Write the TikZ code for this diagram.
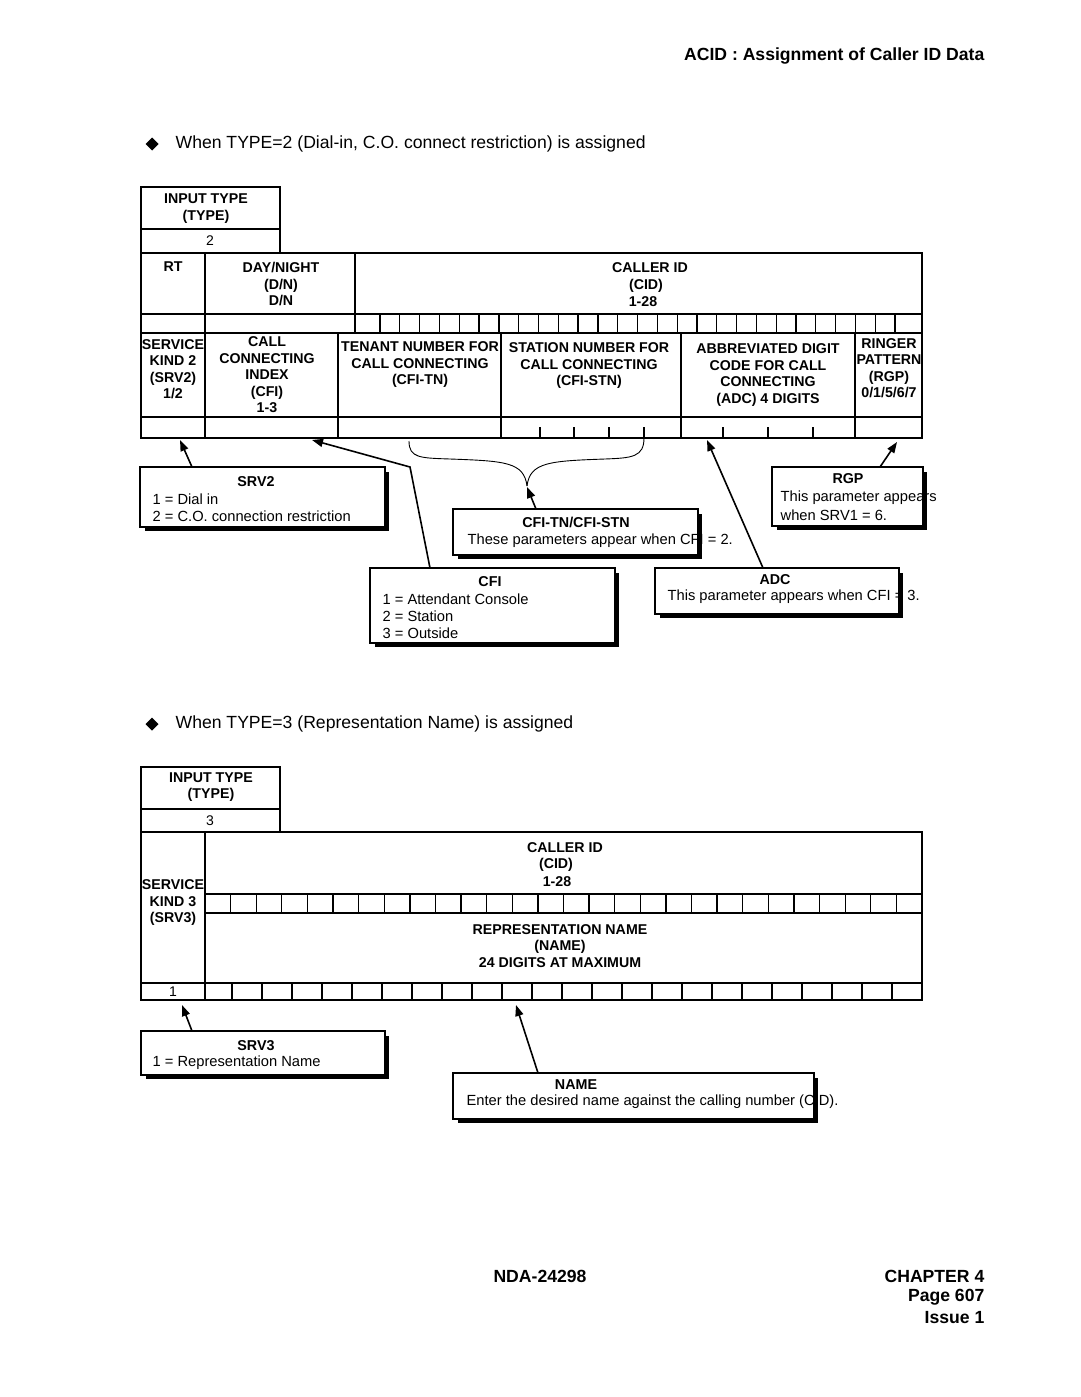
\documentclass[tikz,border=0pt]{standalone}
\usepackage{fontspec}
\setmainfont{Liberation Sans}
\usetikzlibrary{arrows.meta,shadows}
\begin{document}
\begin{tikzpicture}[x=1pt,y=-1pt,line width=1.3pt,
  tb/.style={font=\fontsize{14.2}{16.5}\selectfont\bfseries, align=center, inner sep=0pt},
  tv/.style={font=\fontsize{14}{16.5}\selectfont, inner sep=0pt},
  ct/.style={font=\fontsize{14.7}{17}\selectfont, inner sep=0pt, anchor=west},
  cttl/.style={font=\fontsize{14.3}{17}\selectfont\bfseries, inner sep=0pt},
  cbox/.style={draw, fill=white, line width=1.3pt, inner sep=0pt, anchor=north west,
    drop shadow={shadow xshift=4pt, shadow yshift=-4pt, opacity=1, fill=black}},
  arr/.style={line width=1.6pt, -{Triangle[length=11pt,width=8pt]}},
  head/.style={font=\fontsize{17.6}{21}\selectfont, inner sep=0pt},
  headb/.style={font=\fontsize{17.6}{21}\selectfont\bfseries, inner sep=0pt},
  brace/.style={line width=0.9pt}
]
\fill[white] (0,0) rectangle (1080,1397);
\useasboundingbox (0,0) rectangle (1080,1397);

% ---------- headings ----------
\node[headb, anchor=east] (title) at (985,56) {ACID : Assignment of Caller ID Data};
\fill (145.5,144) -- (152,137.5) -- (158.5,144) -- (152,150.5) -- cycle;
\node[head, anchor=west] (h1) at (175,144) {When TYPE=2 (Dial-in, C.O. connect restriction) is assigned};
\fill (145.5,724) -- (152,717.5) -- (158.5,724) -- (152,730.5) -- cycle;
\node[head, anchor=west] (h2) at (175,724) {When TYPE=3 (Representation Name) is assigned};

% ---------- upper table ----------
\draw (141,187) rectangle (280,253);
\draw (141,229) -- (280,229);
\draw (141,253) rectangle (922,438);
\foreach \yy in {314,333,417} \draw (141,\yy) -- (922,\yy);
\draw (205,253) -- (205,438);
\draw (355,253) -- (355,333);
\foreach \xx in {338,501,681,855} \draw (\xx,333) -- (\xx,438);
\foreach \i in {0,...,26} \draw ({380+19.81*\i},314) -- ({380+19.81*\i},333);
\foreach \xx in {540,574,609,644,723,768,813} \draw (\xx,427) -- (\xx,438);

\node[tb] (it1) at (206,208.5) {INPUT TYPE\\(TYPE)};
\node[tv] (it1v) at (210,241) {2};
\node[tb] (rt) at (173,267) {RT};
\node[tb] (dn) at (281,284) {DAY/NIGHT\\(D/N)\\D/N};
\node[tb] (cid1a) at (650,268) {CALLER ID};
\node[tb] (cid1b) at (646,286) {(CID)};
\node[tb] (cid1c) at (643,302) {1-28};
\node[tb] (srv2h) at (173,369) {SERVICE\\KIND 2\\(SRV2)\\1/2};
\node[tb] (cfih) at (267,375) {CALL\\CONNECTING\\INDEX\\(CFI)\\1-3};
\node[tb] (tnh) at (420,365) {TENANT NUMBER FOR\\CALL CONNECTING\\(CFI-TN)};
\node[tb] (stnh) at (589,366) {STATION NUMBER FOR\\CALL CONNECTING\\(CFI-STN)};
\node[tb] (adch) at (768,375) {ABBREVIATED DIGIT\\CODE FOR CALL\\CONNECTING\\(ADC) 4 DIGITS};
\node[tb] (rgph) at (889,368) {RINGER\\PATTERN\\(RGP)\\0/1/5/6/7};

% brace
\draw[brace] (409,441) .. controls (409,458) and (420,458) .. (450,459) .. controls (505,461) and (524,462) .. (527,486);
\draw[brace] (644,438) .. controls (644,457) and (632,458) .. (605,459) .. controls (550,461) and (530,462) .. (527,486);

% target coordinates
\coordinate (t-srv2) at (180,440);
\coordinate (t-cfi) at (312,440);
\coordinate (cfi-bend) at (410,467);
\coordinate (bracetip) at (527,487);
\coordinate (t-adc) at (707,440);
\coordinate (t-rgp) at (897,442);

% callout boxes (upper)
\node[cbox, minimum width=244pt, minimum height=59pt] (srv2) at (140,467) {};
\node[cbox, minimum width=244pt, minimum height=74pt] (cfi) at (370,568) {};
\node[cbox, minimum width=244pt, minimum height=45pt] (cfitn) at (453,509) {};
\node[cbox, minimum width=243pt, minimum height=45pt] (adc) at (655,568) {};
\node[cbox, minimum width=150pt, minimum height=58pt] (rgp) at (772,467) {};

\node[cttl] (srv2-t) at (256,482) {SRV2};
\node[ct] (srv2-1) at (152,499) {1 = Dial in};
\node[ct] (srv2-2) at (152,516) {2 = C.O. connection restriction};

\node[cttl] (cfi-t) at (490,582) {CFI};
\node[ct] (cfi-1) at (382,599) {1 = Attendant Console};
\node[ct] (cfi-2) at (382,616) {2 = Station};
\node[ct] (cfi-3) at (382,633) {3 = Outside};

\node[cttl] (cfitn-t) at (576,522) {CFI-TN/CFI-STN};
\node[ct] (cfitn-1) at (467,541) {These parameters appear when CFI = 2.};

\node[cttl] (adc-t) at (775,580) {ADC};
\node[ct] (adc-1) at (667,597) {This parameter appears when CFI = 3.};

\node[cttl] (rgp-t) at (848,479) {RGP};
\node[ct] (rgp-1) at (780,498) {This parameter appears};
\node[ct] (rgp-2) at (780,515) {when SRV1 = 6.};

\foreach \b in {srv2,cfi,cfitn,adc,rgp} \draw (\b.north west) rectangle (\b.south east);

\draw[arr] ([xshift=52pt]srv2.north west) -- (t-srv2);
\draw[arr] ([xshift=60pt]cfi.north west) -- (cfi-bend) -- (t-cfi);
\draw[arr] ([xshift=83pt]cfitn.north west) -- (bracetip);
\draw[arr] ([xshift=108pt]adc.north west) -- (t-adc);
\draw[arr] ([xshift=108pt]rgp.north west) -- (t-rgp);

% ---------- lower table ----------
\draw (141,767) rectangle (280,832);
\draw (141,809) -- (280,809);
\draw (141,832) rectangle (922,1000);
\draw (205,832) -- (205,1000);
\foreach \yy in {894,913} \draw (205,\yy) -- (922,\yy);
\draw (141,983) -- (922,983);
\foreach \i in {1,...,27} \draw ({205+25.607*\i},894) -- ({205+25.607*\i},913);
\foreach \i in {0,...,22} \draw ({232+30*\i},983) -- ({232+30*\i},1000);

\node[tb] (it2) at (211,787) {INPUT TYPE\\(TYPE)};
\node[tv] (it2v) at (210,821) {3};
\node[tb] (cid2a) at (565,848) {CALLER ID};
\node[tb] (cid2b) at (556,865) {(CID)};
\node[tb] (cid2c) at (557,882) {1-28};
\node[tb] (srv3h) at (173,903) {SERVICE\\KIND 3\\(SRV3)};
\node[tb] (nameh) at (560,946) {REPRESENTATION NAME\\(NAME)\\24 DIGITS AT MAXIMUM};
\node[tv] (srv3v) at (173,992) {1};

\coordinate (t-srv3) at (182,1005);
\coordinate (t-name) at (516,1005);

\node[cbox, minimum width=243pt, minimum height=43pt] (srv3) at (141,1031) {};
\node[cbox, minimum width=360pt, minimum height=45pt] (name) at (453,1073) {};

\node[cttl] (srv3-t) at (256,1046) {SRV3};
\node[ct] (srv3-1) at (152,1063) {1 = Representation Name};
\node[cttl] (name-t) at (576,1085) {NAME};
\node[ct] (name-1) at (466,1102) {Enter the desired name against the calling number (CID).};

\foreach \b in {srv3,name} \draw (\b.north west) rectangle (\b.south east);

\draw[arr] ([xshift=51pt]srv3.north west) -- (t-srv3);
\draw[arr] ([xshift=85pt]name.north west) -- (t-name);

% ---------- footer ----------
\node[headb] (nda) at (540,1276) {NDA-24298};
\node[headb, anchor=east] (chap) at (985,1276) {CHAPTER 4};
\node[headb, anchor=east] (page) at (985,1297) {Page 607};
\node[headb, anchor=east] (issue) at (985,1318) {Issue 1};
\end{tikzpicture}
\end{document}
